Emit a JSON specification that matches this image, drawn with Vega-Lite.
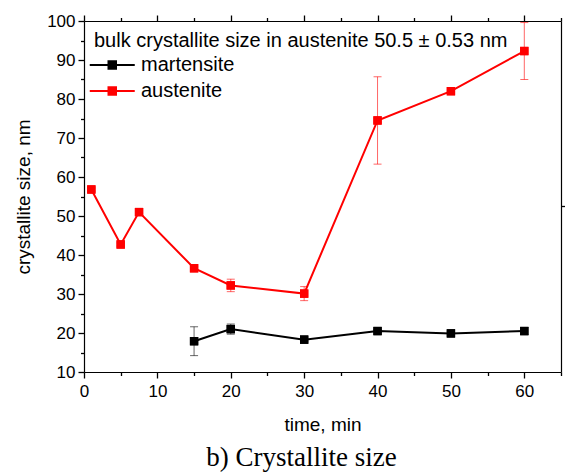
{
  "$schema": "https://vega.github.io/schema/vega-lite/v6.json",
  "width": 477,
  "height": 351,
  "autosize": {"type": "none"},
  "padding": {"left": 84, "top": 21, "right": 4, "bottom": 102},
  "background": "white",
  "config": {
    "font": "Liberation Sans",
    "view": {"stroke": null},
    "axis": {
      "grid": false,
      "ticks": true,
      "domainColor": "black",
      "domainWidth": 1.2,
      "tickColor": "black",
      "tickOpacity": 1,
      "tickWidth": 1.3,
      "tickSize": 6,
      "labelFont": "Liberation Sans",
      "labelFontSize": 17,
      "labelColor": "black",
      "labelFlush": false,
      "labelOverlap": false,
      "labelBound": false,
      "titleFont": "Liberation Sans",
      "titleFontSize": 19,
      "titleFontWeight": "normal",
      "titleColor": "black"
    }
  },
  "title": {
    "text": "b) Crystallite size",
    "orient": "bottom",
    "anchor": "middle",
    "font": "Liberation Serif",
    "fontSize": 27,
    "fontWeight": "normal",
    "color": "black",
    "dx": -21,
    "offset": 11
  },
  "data": {
    "values": [
      {"phase": "austenite", "time": 1, "size": 56.8, "err": 0.4},
      {"phase": "austenite", "time": 5, "size": 42.7, "err": 0.4},
      {"phase": "austenite", "time": 7.5, "size": 51.0, "err": 0.4},
      {"phase": "austenite", "time": 15, "size": 36.6, "err": 0.4},
      {"phase": "austenite", "time": 20, "size": 32.2, "err": 1.6},
      {"phase": "austenite", "time": 30, "size": 30.1, "err": 1.8},
      {"phase": "austenite", "time": 40, "size": 74.5, "err": 11.2},
      {"phase": "austenite", "time": 50, "size": 82.0, "err": 0.4},
      {"phase": "austenite", "time": 60, "size": 92.3, "err": 7.3},
      {"phase": "martensite", "time": 15, "size": 17.9, "err": 3.7},
      {"phase": "martensite", "time": 20, "size": 21.0, "err": 1.3},
      {"phase": "martensite", "time": 30, "size": 18.3, "err": 0.4},
      {"phase": "martensite", "time": 40, "size": 20.5, "err": 0.4},
      {"phase": "martensite", "time": 50, "size": 19.9, "err": 0.4},
      {"phase": "martensite", "time": 60, "size": 20.5, "err": 0.9}
    ]
  },
  "layer": [
    {
      "mark": {"type": "errorbar", "ticks": {"size": 8}, "thickness": 1, "opacity": 0.6},
      "encoding": {
        "x": {
          "field": "time", "type": "quantitative",
          "scale": {"domain": [0, 65], "nice": false, "zero": false},
          "axis": {
            "orient": "bottom", "title": null, "labels": false, "domain": false, "tickSize": 3.5,
            "values": [5, 15, 25, 35, 45, 55, 65]
          }
        },
        "y": {
          "field": "size", "type": "quantitative",
          "scale": {"domain": [10, 100], "nice": false, "zero": false},
          "axis": {
            "orient": "left", "title": null, "labels": false, "domain": false, "tickSize": 3.5,
            "values": [15, 25, 35, 45, 55, 65, 75, 85, 95]
          }
        },
        "yError": {"field": "err"},
        "color": {"field": "phase", "type": "nominal", "scale": {"domain": ["martensite", "austenite"], "range": ["#000000", "#ff0000"]}}
      }
    },
    {
      "mark": {"type": "line", "strokeWidth": 2},
      "encoding": {
        "x": {
          "field": "time", "type": "quantitative",
          "scale": {"domain": [0, 65], "nice": false, "zero": false},
          "axis": {
            "orient": "bottom",
            "title": "time, min",
            "values": [0, 10, 20, 30, 40, 50, 60],
            "labelPadding": 5,
            "titlePadding": 16
          }
        },
        "y": {
          "field": "size", "type": "quantitative",
          "scale": {"domain": [10, 100], "nice": false, "zero": false},
          "axis": {
            "orient": "left",
            "title": "crystallite size, nm",
            "values": [10, 20, 30, 40, 50, 60, 70, 80, 90, 100],
            "labelPadding": 3,
            "titlePadding": 13
          }
        },
        "color": {"field": "phase", "type": "nominal"}
      }
    },
    {
      "mark": {"type": "point", "shape": "square", "size": 70, "filled": true, "opacity": 1},
      "encoding": {
        "x": {
          "field": "time", "type": "quantitative",
          "scale": {"domain": [0, 65], "nice": false, "zero": false},
          "axis": {"orient": "top", "title": null, "labels": false, "values": [0, 10, 20, 30, 40, 50, 60]}
        },
        "y": {
          "field": "size", "type": "quantitative",
          "scale": {"domain": [10, 100], "nice": false, "zero": false},
          "axis": {"orient": "right", "title": null, "labels": false, "values": [52.5]}
        },
        "color": {
          "field": "phase", "type": "nominal",
          "legend": {
            "orient": "none",
            "legendX": 10,
            "legendY": 10,
            "padding": 0,
            "title": "bulk crystallite size in austenite 50.5 ± 0.53 nm",
            "titleFont": "Liberation Sans",
            "titleFontSize": 20,
            "titleFontWeight": "normal",
            "titleColor": "black",
            "titleLimit": 600,
            "titlePadding": 4,
            "labelFont": "Liberation Sans",
            "labelFontSize": 20,
            "labelColor": "black",
            "labelLimit": 300,
            "labelOffset": 27,
            "rowPadding": 6,
            "symbolType": "M-1.9,0H4.1M0.6,-0.5H1.6V0.5H0.6Z",
            "symbolSize": 225,
            "symbolStrokeWidth": 2,
            "symbolOpacity": 1,
            "encode": {
              "symbols": {
                "update": {
                  "stroke": {"scale": "color", "field": "value"},
                  "fill": {"scale": "color", "field": "value"},
                  "opacity": {"value": 1},
                  "fillOpacity": {"value": 1},
                  "strokeOpacity": {"value": 1}
                }
              }
            }
          }
        }
      }
    },
    {
      "mark": {"type": "point", "shape": "square", "size": 70, "filled": true, "opacity": 1},
      "encoding": {
        "x": {
          "field": "time", "type": "quantitative",
          "scale": {"domain": [0, 65], "nice": false, "zero": false},
          "axis": {
            "orient": "top", "title": null, "labels": false, "domain": false, "tickSize": 3.5,
            "values": [5, 15, 25, 35, 45, 55, 65]
          }
        },
        "y": {
          "field": "size", "type": "quantitative",
          "scale": {"domain": [10, 100], "nice": false, "zero": false},
          "axis": null
        },
        "color": {"field": "phase", "type": "nominal"}
      }
    }
  ],
  "resolve": {"axis": {"x": "independent", "y": "independent"}}
}
